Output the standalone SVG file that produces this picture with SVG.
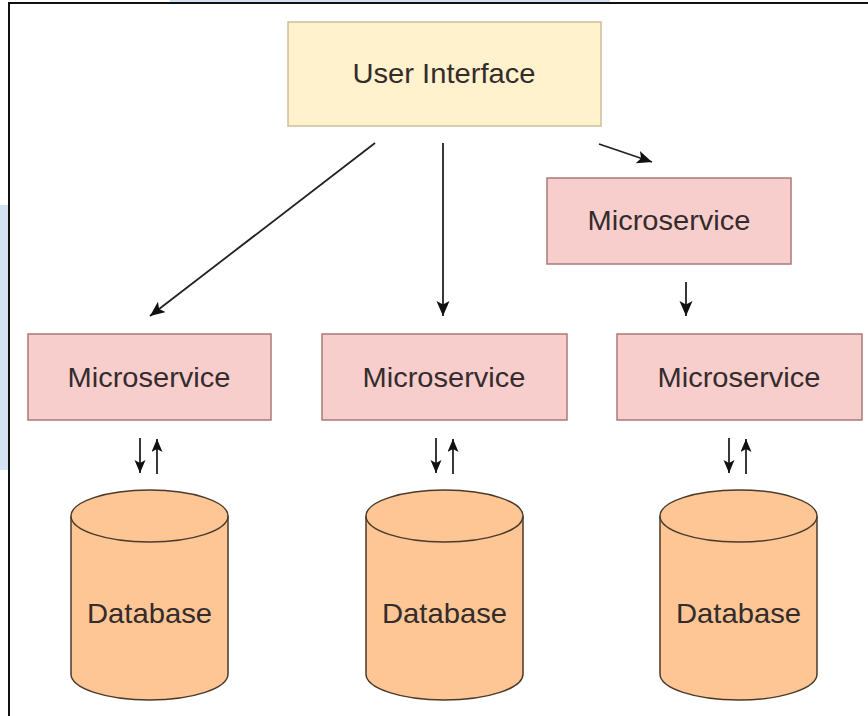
<svg xmlns="http://www.w3.org/2000/svg" width="868" height="716" viewBox="0 0 868 716">
  <defs>
    <marker id="ah" markerUnits="userSpaceOnUse" markerWidth="16" markerHeight="14" refX="15" refY="6.5" orient="auto">
      <path d="M0,0 L15,6.5 L0,13 L3.5,6.5 z" fill="#111"/>
    </marker>
    <marker id="ahs" markerUnits="userSpaceOnUse" markerWidth="14" markerHeight="12" refX="13" refY="5.5" orient="auto">
      <path d="M0,0 L13,5.5 L0,11 L3,5.5 z" fill="#111"/>
    </marker>
    <style>
      .ui { fill: #fff2cc; stroke: #cbbf98; stroke-width: 1.5; }
      .ms { fill: #f8cecc; stroke: #a97a78; stroke-width: 1.5; }
      .db { fill: #fdc694; stroke: #4a3a2c; stroke-width: 1.5; }
      .lbl { font-family: "Liberation Sans", Arial, sans-serif; fill: #342c2c; text-anchor: middle; dominant-baseline: central; }
      .big { font-size: 28px; }
      .conn line { stroke: #222; stroke-width: 1.8; fill: none; }
    </style>
  </defs>

  <rect x="0" y="0" width="868" height="716" fill="#ffffff"/>
  <!-- faint background watermark -->
  <rect x="0" y="205" width="8" height="265" fill="#d3e1f0"/>
  <rect x="170" y="0" width="440" height="2" fill="#d3e1f0"/>
  <!-- frame -->
  <line x1="8" y1="3" x2="868" y2="3" stroke="#111" stroke-width="2"/>
  <line x1="9" y1="3" x2="9" y2="716" stroke="#111" stroke-width="2"/>

  <g id="ui">
    <rect class="ui" x="288" y="22" width="313" height="104"/>
    <text class="lbl big" x="444" y="73" textLength="183" lengthAdjust="spacingAndGlyphs">User Interface</text>
  </g>

  <g id="ms-top-right">
    <rect class="ms" x="547" y="178" width="244" height="86"/>
    <text class="lbl big" x="669" y="220" textLength="163" lengthAdjust="spacingAndGlyphs">Microservice</text>
  </g>

  <g id="ms-left">
    <rect class="ms" x="28" y="334" width="243" height="86"/>
    <text class="lbl big" x="149" y="377" textLength="163" lengthAdjust="spacingAndGlyphs">Microservice</text>
  </g>

  <g id="ms-middle">
    <rect class="ms" x="322" y="334" width="245" height="86"/>
    <text class="lbl big" x="444" y="377" textLength="163" lengthAdjust="spacingAndGlyphs">Microservice</text>
  </g>

  <g id="ms-right">
    <rect class="ms" x="617" y="334" width="245" height="86"/>
    <text class="lbl big" x="739" y="377" textLength="163" lengthAdjust="spacingAndGlyphs">Microservice</text>
  </g>

  <g id="db-left">
    <path class="db" d="M71,516 A78.5,26 0 0 1 228,516 L228,674 A78.5,26 0 0 1 71,674 Z"/>
    <path class="db" d="M71,516 A78.5,26 0 0 0 228,516" fill="none"/>
    <text class="lbl big" x="149.5" y="613" textLength="125" lengthAdjust="spacingAndGlyphs">Database</text>
  </g>

  <g id="db-middle">
    <path class="db" d="M366,516 A78.5,26 0 0 1 523,516 L523,674 A78.5,26 0 0 1 366,674 Z"/>
    <path class="db" d="M366,516 A78.5,26 0 0 0 523,516" fill="none"/>
    <text class="lbl big" x="444.5" y="613" textLength="125" lengthAdjust="spacingAndGlyphs">Database</text>
  </g>

  <g id="db-right">
    <path class="db" d="M660,516 A78.5,26 0 0 1 817,516 L817,674 A78.5,26 0 0 1 660,674 Z"/>
    <path class="db" d="M660,516 A78.5,26 0 0 0 817,516" fill="none"/>
    <text class="lbl big" x="738.5" y="613" textLength="125" lengthAdjust="spacingAndGlyphs">Database</text>
  </g>

  <g id="connectors" class="conn">
    <line x1="375" y1="143" x2="150" y2="316" marker-end="url(#ah)"/>
    <line x1="443" y1="143" x2="443" y2="316" marker-end="url(#ah)"/>
    <line x1="599" y1="144" x2="652" y2="162" marker-end="url(#ah)"/>
    <line x1="686" y1="282" x2="686" y2="316" marker-end="url(#ah)"/>

    <line x1="140" y1="438" x2="140" y2="473" marker-end="url(#ahs)"/>
    <line x1="157" y1="474" x2="157" y2="439" marker-end="url(#ahs)"/>
    <line x1="436" y1="438" x2="436" y2="473" marker-end="url(#ahs)"/>
    <line x1="453" y1="474" x2="453" y2="439" marker-end="url(#ahs)"/>
    <line x1="729" y1="438" x2="729" y2="473" marker-end="url(#ahs)"/>
    <line x1="746" y1="474" x2="746" y2="439" marker-end="url(#ahs)"/>
  </g>
</svg>
